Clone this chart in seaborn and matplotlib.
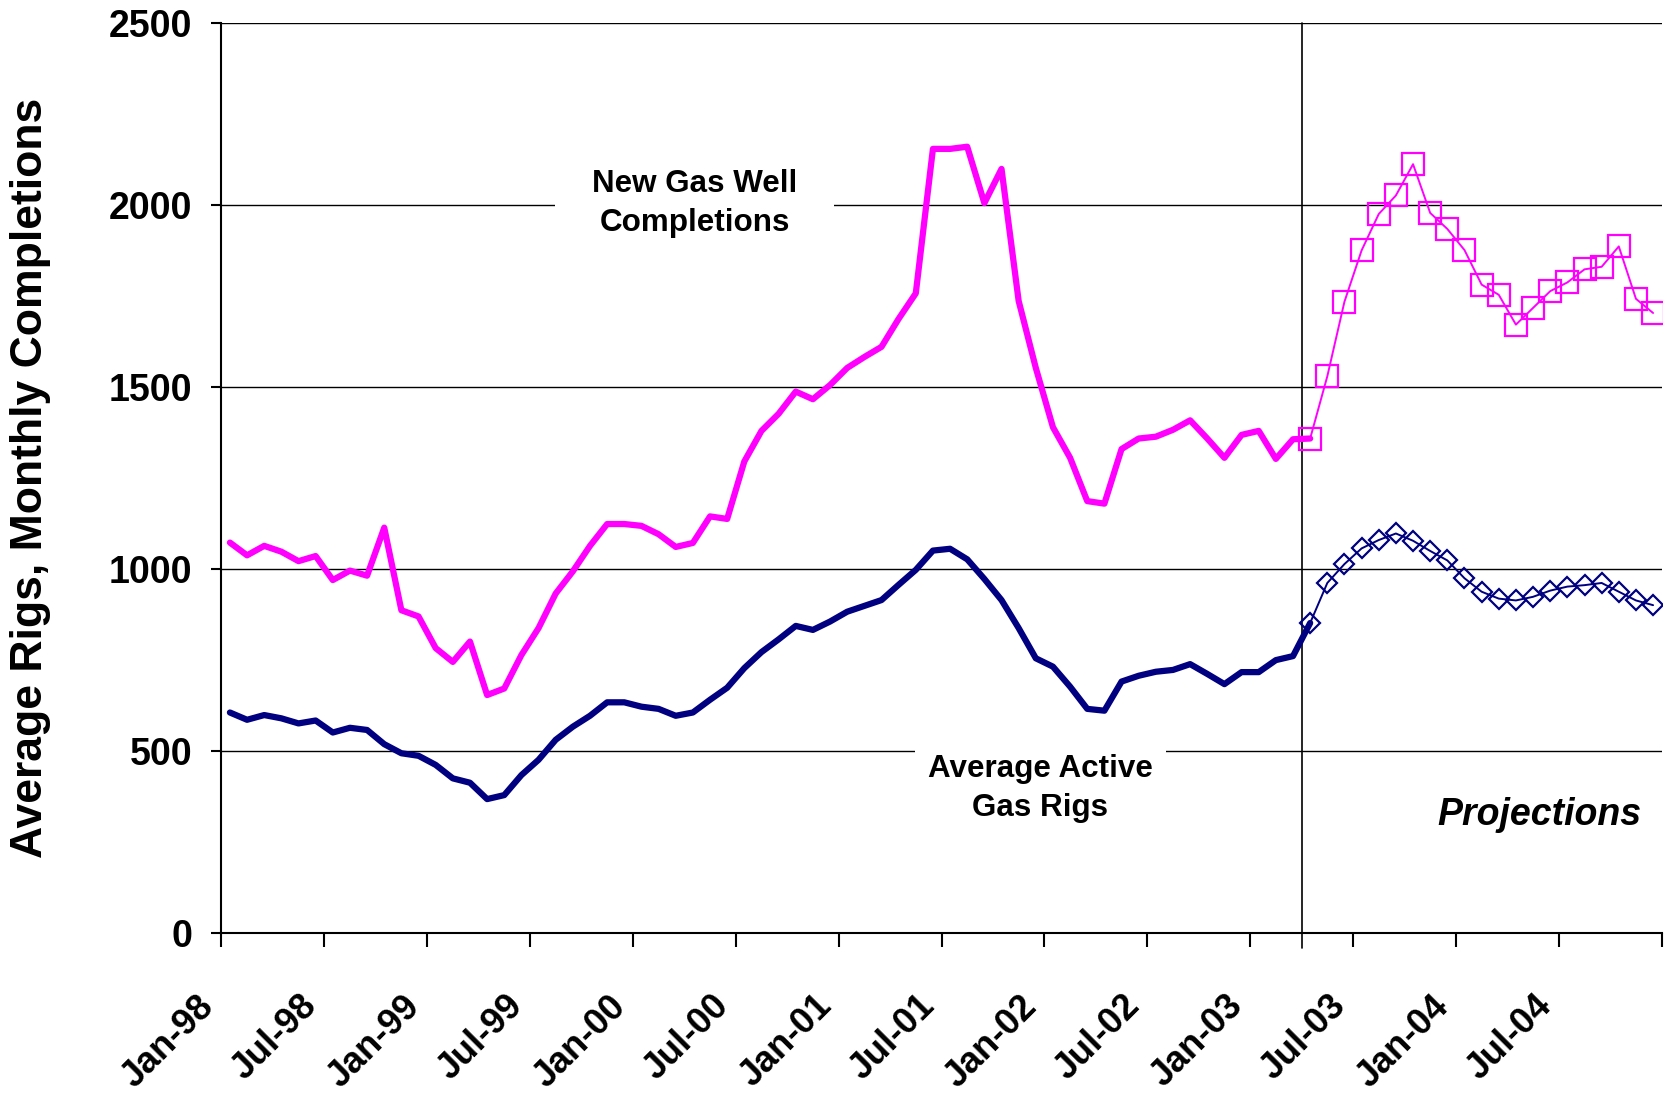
import matplotlib
matplotlib.use('Agg')
import matplotlib.pyplot as plt
import seaborn as sns
import numpy as np
import pandas as pd

# Monthly series, Jan-98 .. Apr-03 (history) and Apr-03 .. Dec-04 (projection)
completions_hist = [1073, 1038, 1064, 1048, 1022, 1036, 970, 996, 982, 1114,
                    887, 870, 783, 745, 801, 654, 672, 764, 838, 933,
                    994, 1064, 1124, 1124, 1119, 1096, 1061, 1072, 1145, 1138,
                    1296, 1380, 1427, 1488, 1467, 1506, 1553, 1583, 1611, 1688,
                    1758, 2155, 2155, 2161, 2006, 2100, 1737, 1553, 1390, 1306,
                    1187, 1180, 1330, 1359, 1364, 1383, 1409, 1359, 1306, 1369,
                    1380, 1303, 1357, 1359]
rigs_hist = [606, 586, 599, 590, 576, 584, 551, 564, 558, 519,
             494, 487, 462, 425, 413, 368, 379, 434, 476, 531,
             567, 597, 634, 634, 622, 616, 597, 606, 641, 674,
             728, 772, 807, 844, 833, 856, 883, 899, 915, 957,
             998, 1051, 1056, 1027, 973, 915, 838, 755, 732, 677,
             616, 611, 691, 707, 718, 723, 739, 712, 684, 717,
             717, 750, 761, 852]
completions_proj = [1359, 1530, 1735, 1876, 1976, 2027, 2113, 1979, 1935, 1877,
                    1782, 1754, 1672, 1718, 1764, 1788, 1824, 1831, 1887, 1743, 1704]
rigs_proj = [852, 962, 1014, 1057, 1080, 1098, 1078, 1050, 1024, 975,
             938, 919, 914, 924, 941, 952, 956, 962, 938, 914, 901]

tick_labels = ['Jan-98', 'Jul-98', 'Jan-99', 'Jul-99', 'Jan-00', 'Jul-00', 'Jan-01',
               'Jul-01', 'Jan-02', 'Jul-02', 'Jan-03', 'Jul-03', 'Jan-04', 'Jul-04', '']

# month index: each month sits in the middle of its category slot
hist = pd.DataFrame({'month': np.arange(len(completions_hist)) + 0.5,
                     'completions': completions_hist, 'rigs': rigs_hist})
start = len(completions_hist) - 1
proj = pd.DataFrame({'month': np.arange(start, start + len(completions_proj)) + 0.5,
                     'completions': completions_proj, 'rigs': rigs_proj})
n_months = start + len(completions_proj)

sns.set_style("white")
plt.rcParams['font.family'] = ['Liberation Sans', 'DejaVu Sans']
plt.rcParams.update({'font.weight': 'bold', 'text.color': 'black',
                     'axes.labelcolor': 'black', 'xtick.color': 'black',
                     'ytick.color': 'black'})

magenta = '#FF00FF'
navy = '#000080'

fig = plt.figure(figsize=(16.68, 10.97), dpi=100)
ax = fig.add_axes([0.1327, 0.1495, 0.8635, 0.8292])

sns.lineplot(data=hist, x='month', y='completions', color=magenta, lw=4.5,
             ax=ax, zorder=4, solid_joinstyle='round', solid_capstyle='round')
sns.lineplot(data=hist, x='month', y='rigs', color=navy, lw=4.5,
             ax=ax, zorder=4, solid_joinstyle='round', solid_capstyle='round')
sns.lineplot(data=proj, x='month', y='completions', color=magenta, lw=1.4,
             marker='s', markersize=15.5, markerfacecolor='none',
             markeredgecolor=magenta, markeredgewidth=1.6, ax=ax, zorder=5)
sns.lineplot(data=proj, x='month', y='rigs', color=navy, lw=1.4,
             marker='D', markersize=10.5, markerfacecolor='none',
             markeredgecolor=navy, markeredgewidth=1.6, ax=ax, zorder=5)

ax.set_xlim(0, n_months)
ax.set_ylim(0, 2500)
ax.set_xticks(np.arange(0, n_months + 1, 6))
ax.set_xticklabels(tick_labels, rotation=45, ha='right', va='top',
                   fontsize=26, fontweight='bold')
ax.set_yticks(np.arange(0, 2501, 500))
ax.set_yticklabels([str(v) for v in range(0, 2501, 500)], fontsize=27, fontweight='bold')
ax.tick_params(axis='x', bottom=True, direction='out', length=10, width=1.5, pad=30)
ax.tick_params(axis='y', left=True, direction='out', length=7, width=1.5, pad=14)
ax.set_xlabel('')
ax.set_ylabel('Average Rigs, Monthly Completions', fontsize=32, fontweight='bold')
ax.yaxis.set_label_coords(-0.118, 0.5)

ax.yaxis.grid(True, color='black', lw=1.0)
ax.xaxis.grid(False)
ax.set_axisbelow(True)
for side in ['top', 'right']:
    ax.spines[side].set_visible(False)
for side in ['left', 'bottom']:
    ax.spines[side].set_color('black')
    ax.spines[side].set_linewidth(1.5)

# division between history and projections
ax.axvline(start, ymin=-0.016, ymax=1, color='black', lw=1.2, clip_on=False, zorder=3)

ax.text(27.6, 2004, 'New Gas Well\nCompletions', ha='center', va='center',
        fontsize=22.6, fontweight='bold', linespacing=1.38, zorder=2,
        bbox=dict(boxstyle='square,pad=1.18', fc='white', ec='none'))
ax.text(47.76, 398, 'Average Active\nGas Rigs', ha='center', va='center',
        fontsize=22.6, fontweight='bold', linespacing=1.38, zorder=2,
        bbox=dict(boxstyle='square,pad=0.42', fc='white', ec='none'))
ax.text(76.85, 325, 'Projections', ha='center', va='center',
        fontsize=27, fontweight='bold', fontstyle='italic', zorder=2)

fig.savefig('out.png', dpi=100)
